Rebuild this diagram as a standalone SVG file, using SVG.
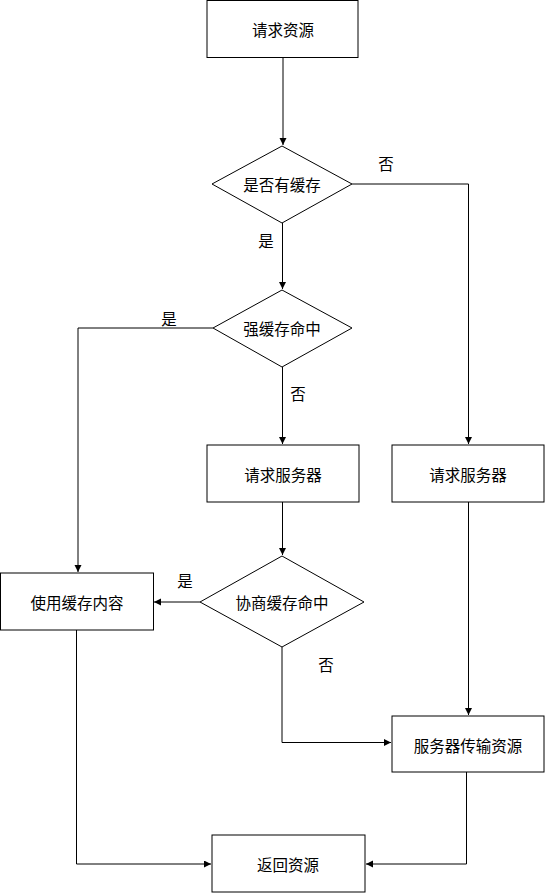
<svg xmlns="http://www.w3.org/2000/svg" width="545" height="893" viewBox="0 0 545 893">
<defs>
<marker id="arr" markerWidth="8" markerHeight="8" refX="7" refY="3.5" orient="auto" markerUnits="userSpaceOnUse">
<path d="M0,0 L7,3.5 L0,7 Z" fill="#000"/>
</marker>
</defs>
<style>
.n{fill:#fff;stroke:#000;stroke-width:1}
.t{font-family:"Noto Sans CJK SC","Noto Sans",sans-serif;font-size:15.5px;fill:#000;text-anchor:middle;dominant-baseline:central}
.c{fill:none;stroke:#000;stroke-width:1}
.ca{fill:none;stroke:#000;stroke-width:1;marker-end:url(#arr)}
</style>
<rect width="545" height="893" fill="#fff"/>
<g id="connectors">
<path class="ca" d="M283,57.5 L283,145"/>
<path class="ca" d="M352,184 L468.5,184 L468.5,444"/>
<path class="ca" d="M282.5,223 L282.5,289"/>
<path class="ca" d="M213,328 L78,328 L78,572"/>
<path class="ca" d="M282.5,367 L282.5,444"/>
<path class="ca" d="M282.5,502 L282.5,555"/>
<path class="ca" d="M200,602 L154,602"/>
<path class="ca" d="M282,647 L282,742.5 L391,742.5"/>
<path class="ca" d="M468.5,502 L468.5,715"/>
<path class="ca" d="M466.5,772 L466.5,864 L366,864"/>
<path class="ca" d="M76.5,630 L76.5,864 L211,864"/>
<text class="t" x="386" y="163">否</text>
<text class="t" x="266" y="240">是</text>
<text class="t" x="169" y="318">是</text>
<text class="t" x="298" y="393">否</text>
<text class="t" x="185" y="580">是</text>
<text class="t" x="326" y="664">否</text>
</g>
<g id="n1"><rect class="n" x="207" y="0.5" width="151" height="57"/><text class="t" x="283" y="29">请求资源</text></g>
<g id="n2"><polygon class="n" points="282,146 352,184 282,223 212,184"/><text class="t" x="282" y="184">是否有缓存</text></g>
<g id="n3"><polygon class="n" points="282,290 352,328 282,367 213,328"/><text class="t" x="282" y="328">强缓存命中</text></g>
<g id="n4"><rect class="n" x="207" y="445" width="152" height="57"/><text class="t" x="283" y="474">请求服务器</text></g>
<g id="n5"><rect class="n" x="392" y="445" width="152" height="57"/><text class="t" x="468" y="474">请求服务器</text></g>
<g id="n6"><polygon class="n" points="282,556 364,602 282,647 200,602"/><text class="t" x="282" y="602">协商缓存命中</text></g>
<g id="n7"><rect class="n" x="0.5" y="573" width="153" height="57"/><text class="t" x="77" y="602">使用缓存内容</text></g>
<g id="n8"><rect class="n" x="392" y="716" width="152" height="56"/><text class="t" x="468" y="745">服务器传输资源</text></g>
<g id="n9"><rect class="n" x="212" y="835" width="153" height="57"/><text class="t" x="288" y="864">返回资源</text></g>
</svg>
